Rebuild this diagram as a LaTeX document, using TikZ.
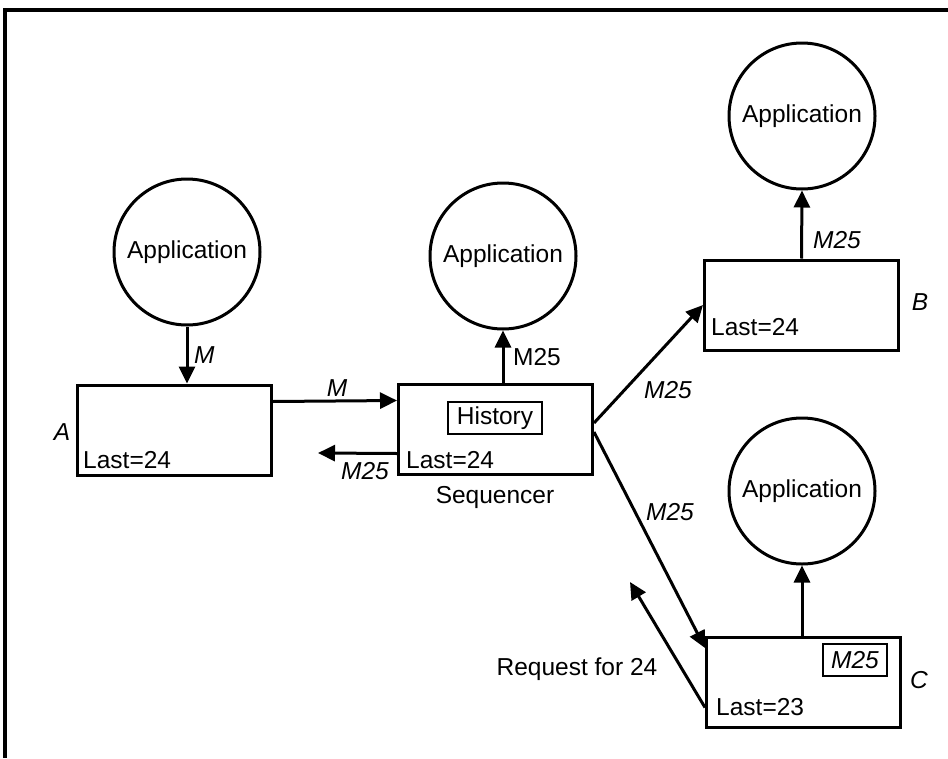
\documentclass[tikz,border=0pt]{standalone}
\usepackage{fontspec}
\setmainfont{Liberation Sans}
\usetikzlibrary{arrows.meta}
\begin{document}
\begin{tikzpicture}[x=1pt,y=-1pt,
  every node/.style={font=\fontsize{24.5}{28}\selectfont},
  app/.style={draw,circle,line width=3pt,minimum size=146pt,inner sep=0pt},
  host/.style={draw,rectangle,line width=3pt,minimum width=194pt,minimum height=90pt,inner sep=0pt},
  tag/.style={draw,rectangle,line width=2.8pt,inner sep=0pt,minimum height=32pt},
  arr/.style={line width=3pt,-{Triangle[length=17pt,width=16pt]}},
  lbl/.style={inner sep=0pt},
  ilbl/.style={inner sep=0pt,font=\fontsize{24.5}{28}\selectfont\itshape}]
\useasboundingbox (0,0) rectangle (948,758);
\draw[line width=3.5pt] (948,10) -- (5,10) -- (5,758);
% applications
\node[app] (appA) at (187,252) {Application};
\node[app] (appS) at (503,256) {Application};
\node[app] (appB) at (802,116) {Application};
\node[app] (appC) at (802,491) {Application};
% hosts
\node[host] (boxA) at (174,430) {};
\node[host] (seq) at (495.5,429) {};
\node[host] (boxB) at (801.5,305) {};
\node[host] (boxC) at (803.5,682.5) {};
% inner tags
\node[tag,minimum width=94pt] (hist) at (495,418) {History};
\node[tag,minimum width=64pt,font=\fontsize{24.5}{28}\selectfont\itshape] (msg) at (855,660) {M25};
% connectors
\draw[arr] (appA.south) -- (appA.south |- boxA.north);
\draw[arr] (seq.north -| appS.south) -- (appS.south);
\draw[arr] (boxB.north) -- (appB.south);
\draw[arr] (boxC.north -| appC.south) -- (appC.south);
\draw[arr] ([yshift=-18pt]boxA.north east) -- ([yshift=-18pt]seq.north west);
\coordinate (backtip) at (318,453);
\draw[arr] ([yshift=22pt]seq.south west) -- (backtip);
\draw[arr] ([yshift=6pt]seq.east) -- (boxB.west);
\draw[arr] ([yshift=-3pt]seq.east) -- ([yshift=-12pt]boxC.north west);
\coordinate (reqtip) at (630,582);
\draw[arr] ([yshift=-25pt]boxC.west) -- (reqtip);
% labels
\node[ilbl,anchor=west] (lM1) at (194,355) {M};
\node[ilbl] (lM2) at (337,388) {M};
\node[ilbl] (lM25a) at (365,471) {M25};
\node[lbl] (lM25s) at (537,357) {M25};
\node[ilbl] (lM25b) at (837,240) {M25};
\node[ilbl] (lM25sb) at (668,390) {M25};
\node[ilbl] (lM25sc) at (670,512) {M25};
\node[ilbl] (lA) at (62,432) {A};
\node[ilbl] (lB) at (920,302) {B};
\node[ilbl] (lC) at (919,680) {C};
\node[lbl,anchor=west] (lastA) at (83,460) {Last=24};
\node[lbl,anchor=west] (lastS) at (406,460) {Last=24};
\node[lbl,anchor=west] (lastB) at (711,327) {Last=24};
\node[lbl,anchor=west] (lastC) at (716,707) {Last=23};
\node[lbl] (seqname) at (495,497) {Sequencer};
\node[lbl] (req) at (577,669) {Request for 24};
\end{tikzpicture}
\end{document}
